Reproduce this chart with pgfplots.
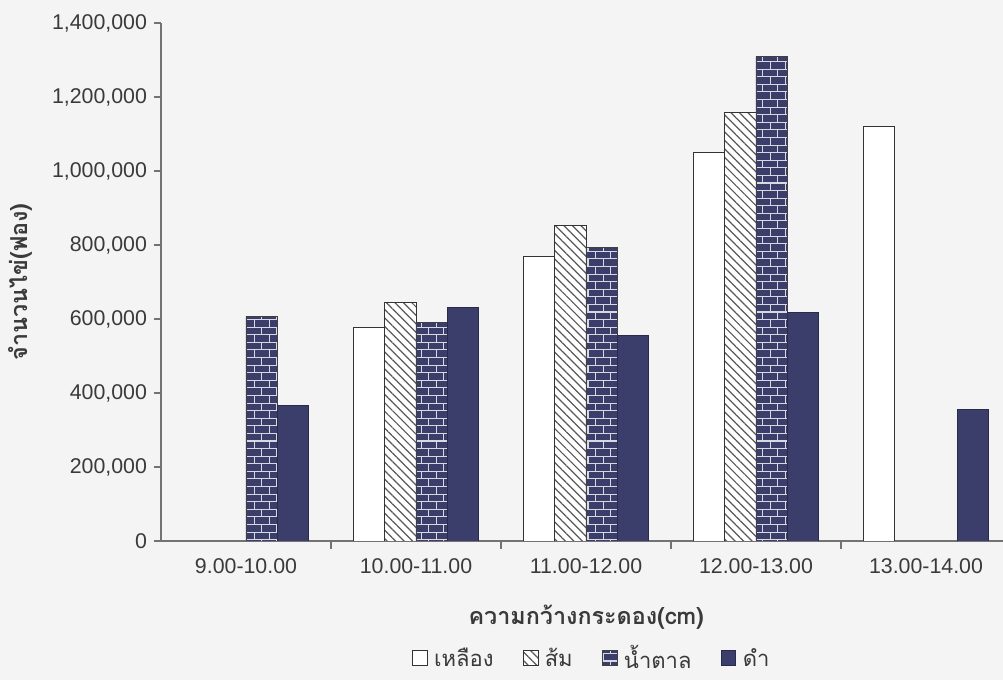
\documentclass[border=0pt]{standalone}
\usepackage{fontspec}
\setmainfont{Liberation Sans}
\newfontfamily\thaifont[Script=Thai]{Loma}
\usepackage{pgfplots}
\pgfplotsset{compat=1.18}
\usetikzlibrary{patterns,patterns.meta}
\definecolor{navy}{HTML}{3B3D6B}
\definecolor{bg}{HTML}{F4F4F4}
\definecolor{txt}{HTML}{3A3A3A}
\begin{document}
\begin{tikzpicture}
\fill[bg] (-120.75pt,-104.25pt) rectangle (631.5pt,405.75pt);
\path[use as bounding box] (-120.75pt,-104.25pt) rectangle (631.5pt,405.75pt);
\begin{axis}[
  at={(0pt,0pt)}, anchor=south west, scale only axis,
  width=631.5pt, height=388.5pt,
  xmin=-0.5, xmax=4.453, ymin=0, ymax=1400000,
  axis lines*=left,
  axis line style={draw=black!55, line width=0.8pt},
  tick align=outside,
  major tick length=5pt, minor tick length=6pt,
  ytick={0,200000,400000,600000,800000,1000000,1200000,1400000},
  y tick style={draw=black!55, line width=0.8pt},
  scaled y ticks=false,
  /pgf/number format/fixed,
  /pgf/number format/1000 sep={,},
  /pgf/number format/assume math mode=true,
  yticklabel style={font=\fontsize{16}{19}\selectfont, text=txt, xshift=-2pt},
  xtick={0,1,2,3,4},
  xticklabels={9.00-10.00,10.00-11.00,11.00-12.00,12.00-13.00,13.00-14.00},
  major x tick style={draw=none},
  minor xtick={0.5,1.5,2.5,3.5},
  minor x tick style={draw=black!55, line width=0.8pt},
  xticklabel style={font=\fontsize{16}{19}\selectfont, text=txt, yshift=-5pt},
  xlabel={\thaifont\bfseries ความกว้างกระดอง(cm)},
  xlabel style={at={(axis description cs:0.505,-0.147)}, anchor=center, font=\fontsize{17.5}{20}\selectfont, text=txt},
  ylabel={\thaifont\bfseries จำนวนไข่(ฟอง)},
  ylabel style={at={(axis description cs:-0.1675,0.5)}, anchor=center, font=\fontsize{17.5}{20}\selectfont, text=txt},
  ybar=0pt, bar width=23.6pt,
  legend style={at={(0.512,-0.226)}, anchor=center, legend columns=4, draw=none, fill=none,
    font=\thaifont\fontsize{16.5}{19}\selectfont, text=txt, inner sep=1pt,
    /tikz/every even column/.append style={column sep=20pt}},
  legend image code/.code={\draw[#1] (0pt,-5.5pt) rectangle (11pt,5.5pt);},
]
\addplot[fill=white, draw=black!80, line width=0.7pt]
  coordinates {(1,576000) (2,769000) (3,1050000) (4,1120000)};
\addlegendentry{\,เหลือง}
\addplot[fill=white, draw=black!80, line width=0.7pt, postaction={pattern={Lines[angle=-45,distance=4.5pt,line width=0.9pt]}, pattern color=black!65}]
  coordinates {(1,644000) (2,853000) (3,1159000)};
\addlegendentry{\,ส้ม}
\addplot[fill=navy, draw=black!75, line width=0.7pt, postaction={pattern=bricks, pattern color=white!80!navy}]
  coordinates {(0,607000) (1,590000) (2,792000) (3,1310000)};
\addlegendentry{\,น้ำตาล}
\addplot[fill=navy, draw=navy!70!black, line width=0.7pt]
  coordinates {(0,367000) (1,631000) (2,556000) (3,618000) (4,356000)};
\addlegendentry{\,ดำ}
\end{axis}
\end{tikzpicture}
\end{document}
